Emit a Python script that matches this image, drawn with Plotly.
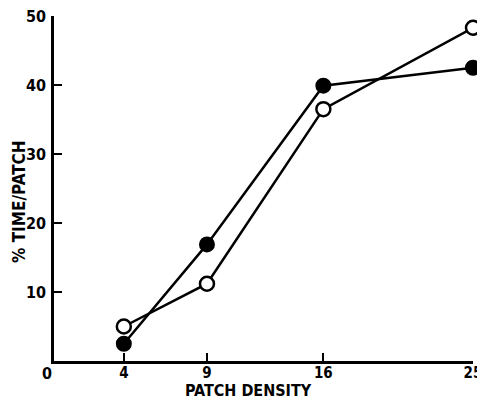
import plotly.graph_objects as go

x_density = [4, 9, 16, 25]
filled_vals = [2.5, 16.9, 39.9, 42.5]
open_vals = [5.0, 11.2, 36.5, 48.3]
x_ticks = [4, 9, 16, 25]
x_tick_text = ["4", "9", "16", "25"]
y_ticks = [10, 20, 30, 40, 50]
y_tick_text = ["10", "20", "30", "40", "50"]
x_title = "PATCH DENSITY"
y_title = "% TIME/PATCH"

FONT = "DejaVu Sans Condensed, DejaVu Sans, Liberation Sans"
TF = dict(family=FONT, size=16, color="black", weight="bold")

W, H = 477, 390          # page body has an 8px margin inside the 485x398 window
L, T, R, B = 46, 8, 12, 37
PW, PH = W - L - R, H - T - B

fig = go.Figure()
fig.add_trace(go.Scatter(
    x=x_density, y=filled_vals, mode="lines+markers",
    line=dict(color="black", width=2.5),
    marker=dict(size=14, color="black", line=dict(color="black", width=2)),
    cliponaxis=False, showlegend=False))
fig.add_trace(go.Scatter(
    x=x_density, y=open_vals, mode="lines+markers",
    line=dict(color="black", width=2.5),
    marker=dict(size=14, color="white", line=dict(color="black", width=2.5)),
    cliponaxis=False, showlegend=False))

fig.update_layout(
    width=W, height=H,
    margin=dict(l=L, r=R, t=T, b=B),
    paper_bgcolor="white", plot_bgcolor="white",
    font=TF,
    xaxis=dict(range=[-0.2, 25.0], tickmode="array", tickvals=x_ticks, ticktext=x_tick_text,
               ticks="inside", ticklen=8, tickwidth=2, tickcolor="black", automargin=False,
               showline=True, linecolor="black", linewidth=2.5, showgrid=False, zeroline=False,
               tickfont=dict(family=FONT, size=15, color="black", weight="bold"),
               ticklabelstandoff=-4, ticklabeloverflow="allow"),
    yaxis=dict(range=[0, 50], tickmode="array", tickvals=y_ticks, ticktext=y_tick_text,
               ticks="inside", ticklen=8, tickwidth=2, tickcolor="black", automargin=False,
               showline=True, linecolor="black", linewidth=2.5, showgrid=False, zeroline=False,
               tickfont=TF, ticklabelstandoff=2, ticklabeloverflow="allow"),
)
# origin label
fig.add_annotation(x=(39 - L) / PW, y=0, xref="paper", yref="paper", text="0", showarrow=False,
                   xanchor="center", yanchor="middle", yshift=-12, font=TF)
# axis titles
fig.add_annotation(x=(240 - L) / PW, y=0, xref="paper", yref="paper", text=x_title, showarrow=False,
                   xanchor="center", yanchor="middle", yshift=-(382 - (H - B)), font=TF)
fig.add_annotation(x=0, y=(H - B - 194) / PH, xref="paper", yref="paper", text=y_title, showarrow=False,
                   textangle=-90, xanchor="center", yanchor="middle", xshift=-(L - 11),
                   font=dict(family=FONT, size=17, color="black", weight="bold"))

fig.write_html("out.html")
